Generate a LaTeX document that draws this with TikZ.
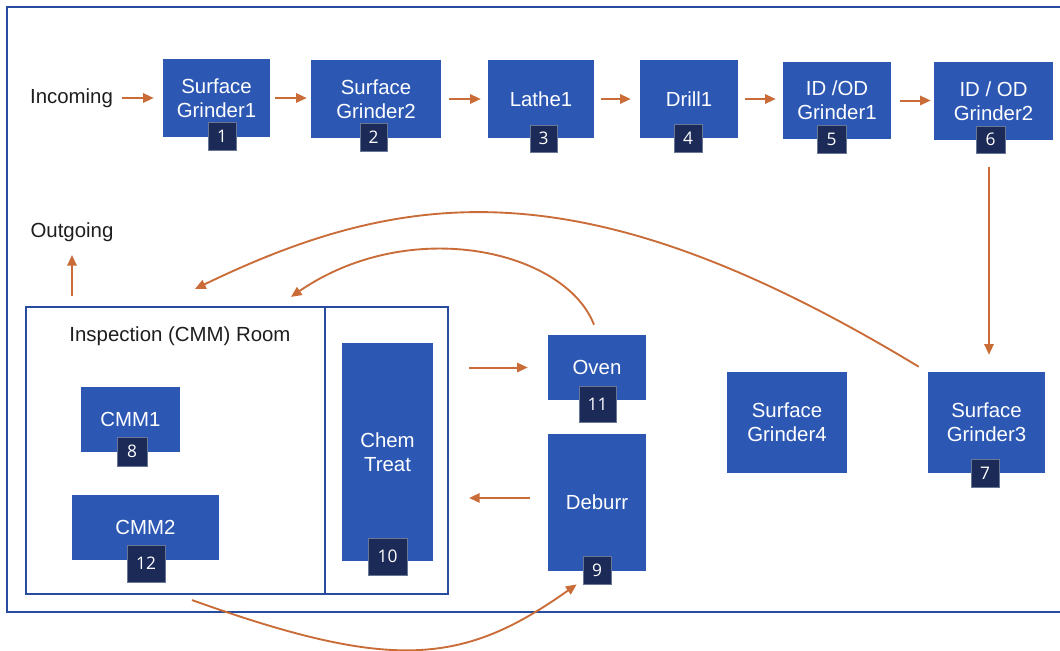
\documentclass[tikz,border=0pt]{standalone}
\usepackage{fontspec}
\setmainfont{Liberation Sans}
\newfontfamily\badgefont{Open Sans}
\usetikzlibrary{arrows.meta}
\definecolor{machblue}{RGB}{44,88,180}
\definecolor{badgenavy}{RGB}{28,42,88}
\definecolor{badgeedge}{RGB}{105,118,150}
\definecolor{flow}{RGB}{202,108,56}
\definecolor{wall}{RGB}{40,76,160}
\definecolor{ink}{RGB}{30,30,30}

\begin{document}
\begin{tikzpicture}[x=0.75pt,y=-0.75pt,
  sz/.style 2 args={minimum width=#1*0.75pt, minimum height=#2*0.75pt},
  mach/.style={fill=machblue, draw=none, text=white, align=center,
    font=\fontsize{15.3}{18}\selectfont, inner sep=0pt},
  badge/.style={fill=badgenavy, draw=badgeedge, line width=0.6pt, text=white,
    font=\badgefont\fontsize{13}{15}\selectfont, inner sep=0pt},
  lbl/.style={font=\fontsize{15.3}{18}\selectfont, text=ink, inner sep=0pt},
  roombox/.style={draw=wall, line width=1.6pt, inner sep=0pt},
  flowarrow/.style={draw=flow, line width=1.5pt,
    -{Triangle[length=8pt,width=7pt]}},
  loopflow/.style={draw=flow, line width=1.4pt,
    -{Triangle[length=8pt,width=7pt]}}]

\useasboundingbox (0,0) rectangle (1060,650);
\fill[white] (0,0) rectangle (1060,650);

% plant outline (open to the right)
\draw[wall, line width=2pt] (1070,7) -- (7,7) -- (7,612) -- (1070,612);

% rooms
\node[roombox, sz={299}{287}] (insp) at (175.5,450.5) {};
\node[roombox, sz={123}{287}] (chemroom) at (386.5,450.5) {};
\node[lbl] (insptitle) at (180,336) {Inspection (CMM) Room};

% labels
\node[lbl] (in) at (71.5,98) {Incoming};
\node[lbl] (out) at (72,232) {Outgoing};
\coordinate (outtip) at (72,255);

% machines, top line
\node[mach, sz={107}{78}] (sg1) at (216.5,98) {Surface\\Grinder1};
\node[mach, sz={130}{78}] (sg2) at (376,99) {Surface\\Grinder2};
\node[mach, sz={106}{78}] (lathe) at (541,99) {Lathe1};
\node[mach, sz={98}{78}] (drill) at (689,99) {Drill1};
\node[mach, sz={108}{77}] (id1) at (837,100.5) {ID /OD\\Grinder1};
\node[mach, sz={119}{78}] (id2) at (993.5,101) {ID / OD\\Grinder2};

% machines, lower area
\node[mach, sz={117}{101}] (sg3) at (986.5,422.5) {Surface\\Grinder3};
\node[mach, sz={120}{101}] (sg4) at (787,422.5) {Surface\\Grinder4};
\node[mach, sz={98}{65}] (oven) at (597,367.5) {Oven};
\node[mach, sz={98}{137}] (deburr) at (597,502.5) {Deburr};
\node[mach, sz={91}{218}] (chem) at (387.5,452) {Chem\\Treat};
\node[mach, sz={99}{65}] (cmm1) at (130.5,419.5) {CMM1};
\node[mach, sz={147}{65}] (cmm2) at (145.5,527.5) {CMM2};

% sequence badges
\node[badge, sz={28}{28}] (b1) at (222,136) {1};
\node[badge, sz={27}{28}] (b2) at (373.5,137) {2};
\node[badge, sz={27}{27}] (b3) at (543.5,138.5) {3};
\node[badge, sz={28}{28}] (b4) at (688,138) {4};
\node[badge, sz={29}{28}] (b5) at (831.5,139) {5};
\node[badge, sz={29}{27}] (b6) at (990.5,139.5) {6};
\node[badge, sz={28}{28}] (b7) at (985,473) {7};
\node[badge, sz={30}{29}] (b8) at (132,451.5) {8};
\node[badge, sz={28}{28}] (b9) at (597,570) {9};
\node[badge, sz={39}{37}] (b10) at (387.5,556.5) {10};
\node[badge, sz={37}{36}] (b11) at (597.5,404) {11};
\node[badge, sz={38}{37}] (b12) at (146,563.5) {12};

% straight flow along the top line
\draw[flowarrow, shorten <=6.75pt, shorten >=6.75pt] (in.east) -- (in.east -| sg1.west);
\draw[flowarrow, shorten <=3.75pt, shorten >=3pt] (sg1.east) -- (sg1.east -| sg2.west);
\draw[flowarrow, shorten <=6pt, shorten >=5.25pt] (sg2.east) -- (sg2.east -| lathe.west);
\draw[flowarrow, shorten <=5.25pt, shorten >=6.75pt] (lathe.east) -- (lathe.east -| drill.west);
\draw[flowarrow, shorten <=5.25pt, shorten >=5.25pt] (drill.east) -- (drill.east -| id1.west);
\draw[flowarrow, shorten <=6.75pt, shorten >=2.25pt] (id1.east) -- (id1.east -| id2.west);
\draw[flowarrow, shorten <=10pt, shorten >=12.75pt] (b6.south -| 989,0) -- (sg3.north -| 989,0);
\draw[flowarrow, shorten <=7.5pt] (insp.north -| out.south) -- (outtip);

% finishing area
\draw[flowarrow, shorten <=15pt, shorten >=15pt] (chemroom.east |- oven.west) -- (oven.west);
\draw[flowarrow, shorten <=13.5pt, shorten >=15pt]
  ([yshift=3.4pt]deburr.west) -- ([yshift=3.4pt]deburr.west -| chemroom.east);

% return loops
\draw[loopflow] ([shift={(-9,-5)}]sg3.north west)
  .. controls (589,167) and (410,185) .. ([shift={(19.5,-17)}]insp.north);
\draw[loopflow] ([shift={(-3,-10)}]oven.north)
  .. controls (565,250) and (410,215) .. ([shift={(-33,-9)}]chemroom.north west);
\draw[loopflow] ([shift={(16.5,5)}]insp.south)
  .. controls (393,672) and (463,665) .. ([shift={(-6,0)}]b9.south west);

\end{tikzpicture}
\end{document}
